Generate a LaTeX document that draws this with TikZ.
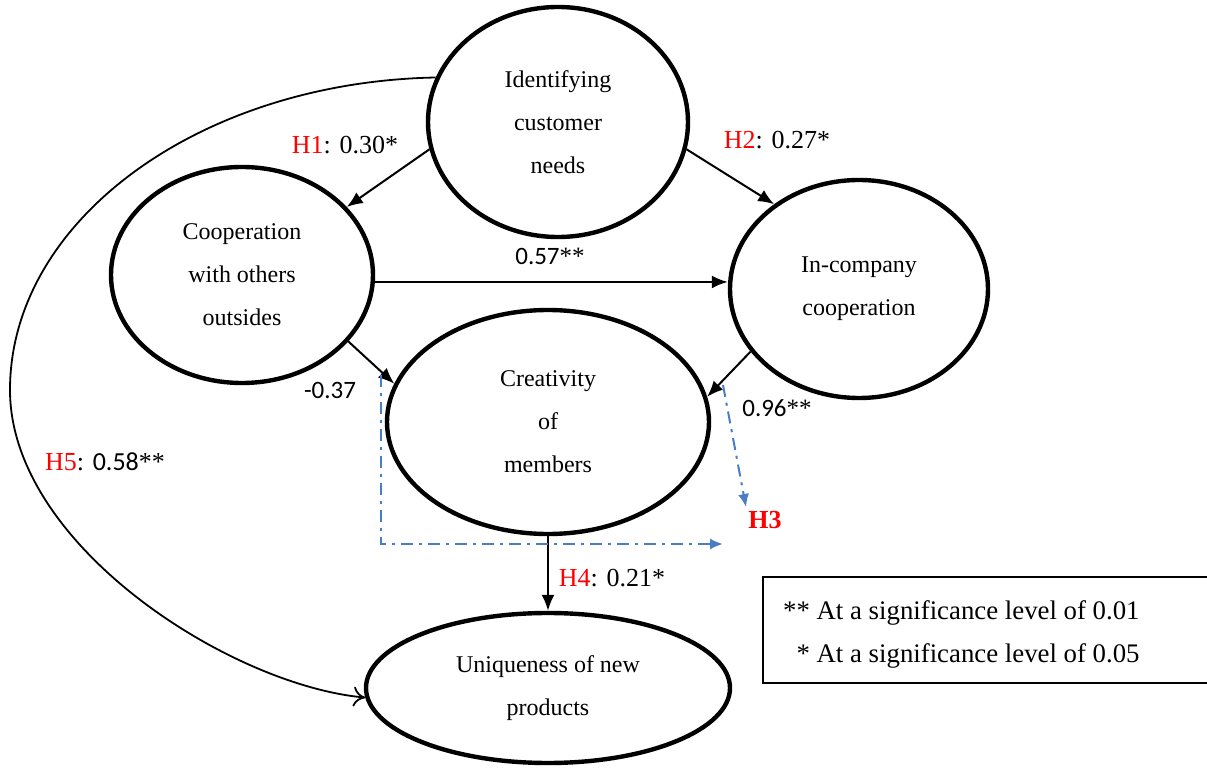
\documentclass[tikz,border=0pt]{standalone}
\usepackage{fontspec}
\setmainfont{Liberation Serif}
\newfontfamily\numfont{Carlito}
\usetikzlibrary{shapes.geometric,arrows.meta}
\definecolor{h3blue}{HTML}{4A7EC4}
\definecolor{hred}{HTML}{FF0000}
\newcommand{\sr}[1]{{\rmfamily #1}}
\begin{document}
\begin{tikzpicture}[x=0.5pt,y=-0.5pt,
  var/.style={ellipse, draw, line width=2.2pt, inner sep=0pt, align=center, font=\fontsize{12}{21.5}\selectfont},
  arr/.style={-{Latex[length=8pt,width=6.5pt]}, line width=1pt},
  h3line/.style={-{Latex[length=6.5pt,width=5.5pt]}, line width=1pt, draw=h3blue, dash pattern=on 6pt off 3pt on 1.5pt off 3pt},
  lab/.style={font=\fontsize{13}{15}\selectfont, inner sep=0pt},
  numlab/.style={font=\numfont\fontsize{12.5}{15}\selectfont, inner sep=0pt},
  key/.style={font=\fontsize{13.4}{15}\selectfont, inner sep=0pt, anchor=east}
]
\fill[white] (0,0) rectangle (1207,770);
\useasboundingbox (0,0) rectangle (1207,770);

\node[var, minimum width=130pt, minimum height=115pt] (top) at (558,122) {Identifying\\customer\\needs};
\node[var, minimum width=131pt, minimum height=108pt] (left) at (242,275) {Cooperation\\with others\\outsides};
\node[var, minimum width=129pt, minimum height=109pt] (right) at (859,289) {In-company\\cooperation};
\node[var, minimum width=161pt, minimum height=112pt] (cre) at (548,422) {Creativity\\of\\members};
\node[var, minimum width=182pt, minimum height=75pt] (uni) at (548,688) {Uniqueness of new\\products};

\draw[arr] (top.192) -- (left.33);
\draw[arr] (top.-12) -- (right.135);
\draw[arr] (left.-3) -- (left.-3 -| right.west);
\draw[arr] (left.-32) -- (cre.166);
\draw[arr] (right.210) -- (cre.9);
\draw[arr] (cre.south) -- (uni.north);

\draw[line width=0.9pt, -{To[length=6pt,width=10pt]}] (top.160) .. controls (200,82) and (10,220) .. (10,390) .. controls (10,545) and (230,685) .. (uni.183);

\coordinate (d1) at (381,375);
\coordinate (d2) at (381,544);
\coordinate (d3) at (723,544);
\draw[h3line] (d1) -- (d2) -- (d3);
\coordinate (e1) at (723,385);
\coordinate (e2) at (746,507);
\draw[h3line] (e1) -- (e2);

\node[lab] (h1) at (345,145) {\textcolor{hred}{H1}: 0.30*};
\node[lab] (h2) at (777,140) {\textcolor{hred}{H2}: 0.27*};
\node[numlab] (l57) at (550,256) {0.57\sr{**}};
\node[numlab] (l37) at (330,390) {-0.37};
\node[numlab] (l96) at (777,408) {0.96\sr{**}};
\node[lab, text=hred] (h3) at (765,520) {\textbf{H3}};
\node[lab] (h4) at (612,578) {\textcolor{hred}{H4}: 0.21*};
\node[lab] (h5) at (105,462) {\textcolor{hred}{H5}: {\numfont 0.58}**};

\coordinate (b1) at (1207,577);
\coordinate (b2) at (763,577);
\coordinate (b3) at (763,683);
\coordinate (b4) at (1207,683);
\draw[line width=1.1pt] (b1) -- (b2) -- (b3) -- (b4);
\node[key] (k1) at (1140,613) {** At a significance level of 0.01};
\node[key] (k2) at (1140,656) {* At a significance level of 0.05};
\end{tikzpicture}
\end{document}
